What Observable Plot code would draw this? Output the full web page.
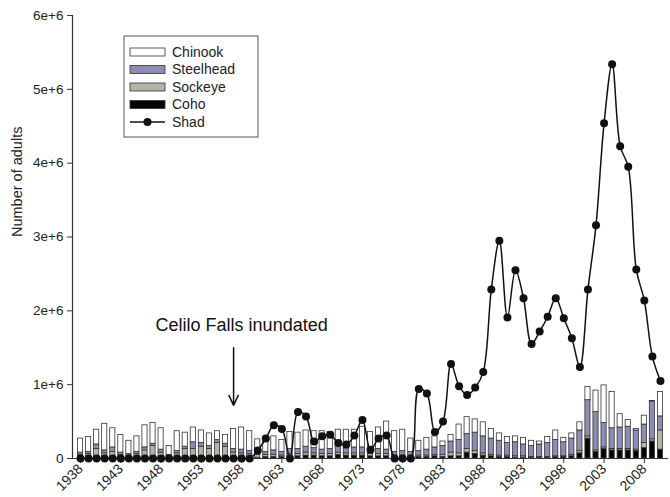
<!DOCTYPE html>
<html>
<head>
<meta charset="utf-8">
<script src="https://cdn.jsdelivr.net/npm/d3@7"></script>
<script src="https://cdn.jsdelivr.net/npm/@observablehq/plot@0.6"></script>
<style>
  html, body { margin: 0; padding: 0; background: #fff; }
  #chart { width: 670px; height: 497px; }
</style>
</head>
<body>
<div id="chart"></div>
<script>
// ---- Data (millions of adults) ----
const years = d3.range(1938, 2011);
const coho = [
  .01,.01,.01,.01,.01,.01,.01,.01,.01,.01,.01,.01,.01,.01,.01,.01,.01,.01,.01,.01,.01,.01,
  .01,.02,.02,.02,.03,.03,.04,.04,.03,.03,.05,.04,.04,.04,.03,.03,.03,.02,.02,.02,
  .02,.02,.03,.02,.03,.03,.08,.06,.04,.03,.02,.02,.01,.01,.01,.01,.01,.02,.02,.03,
  .07,.27,.09,.13,.11,.11,.11,.10,.14,.23,.12
];
const sockeye = [
  .04,.05,.12,.06,.08,.04,.03,.05,.10,.16,.07,.02,.06,.12,.12,.15,.12,.20,.15,.07,.06,.05,
  .04,.03,.03,.02,.03,.03,.04,.03,.03,.03,.03,.03,.03,.03,.03,.03,.03,.02,.02,.02,
  .02,.02,.02,.03,.05,.04,.05,.04,.03,.02,.02,.02,.02,.02,.01,.01,.01,.01,.01,.02,
  .03,.03,.02,.02,.02,.02,.02,.02,.07,.03,.26
];
const steelhead = [
  .03,.03,.06,.04,.06,.03,.02,.03,.04,.03,.04,.02,.03,.03,.09,.05,.04,.04,.04,.05,.05,.04,
  .03,.04,.06,.05,.07,.07,.08,.07,.06,.07,.09,.07,.08,.08,.06,.07,.06,.05,.06,.05,
  .06,.08,.10,.12,.15,.18,.20,.25,.23,.22,.20,.17,.19,.16,.15,.17,.19,.22,.19,.22,
  .28,.49,.52,.33,.28,.29,.30,.26,.25,.51,.19
];
const chinook = [
  .19,.20,.20,.36,.26,.24,.18,.21,.30,.28,.29,.12,.27,.19,.20,.17,.17,.12,.12,.27,.30,.27,
  .18,.20,.19,.16,.23,.22,.22,.23,.25,.23,.22,.25,.24,.28,.24,.29,.38,.28,.29,.18,
  .14,.16,.15,.06,.09,.21,.23,.18,.19,.13,.10,.08,.08,.09,.07,.04,.08,.13,.06,.07,
  .11,.18,.29,.51,.49,.18,.09,.02,.12,.01,.33
];
const shad = [
  0,0,0,0,0,0,0,0,0,0,0,0,0,0,0,0,0,0,0,0,0,0,
  .11,.27,.45,.40,0,.63,.57,.23,.30,.32,.21,.19,.31,.52,.12,.27,.31,0,0,0,
  .94,.88,.36,.50,1.28,.98,.86,.96,1.17,2.29,2.95,1.91,2.55,2.17,1.55,1.72,1.92,2.17,1.90,1.63,
  1.24,2.29,3.16,4.54,5.34,4.23,3.95,2.56,2.14,1.38,1.05
];
const speciesOrder = ["Coho", "Sockeye", "Steelhead", "Chinook"];
const speciesValues = {Coho: coho, Sockeye: sockeye, Steelhead: steelhead, Chinook: chinook};
const speciesColors = {Chinook: "#ffffff", Steelhead: "#8d8db3", Sockeye: "#b4b4a8", Coho: "#050505"};
const legendItems = ["Chinook", "Steelhead", "Sockeye", "Coho", "Shad"];
const xTicks = [1938, 1943, 1948, 1953, 1958, 1963, 1968, 1973, 1978, 1983, 1988, 1993, 1998, 2003, 2008];
const yTicks = [0, 1e6, 2e6, 3e6, 4e6, 5e6, 6e6];
const yTickLabels = ["0", "1e+6", "2e+6", "3e+6", "4e+6", "5e+6", "6e+6"];
const xDomain = [1937, 2011];
const yDomain = [0, 6e6];
const annotation = {text: "Celilo Falls inundated", year: 1958, value: 1.8e6, arrowYear: 1957, arrowFrom: 1.5e6, arrowTo: 0.72e6};

// ---- Build tables ----
const M = 1e6;
const stacked = [];
years.forEach((yr, i) => {
  let cum = 0;
  for (const sp of speciesOrder) {
    const v = speciesValues[sp][i] * M;
    stacked.push({year: yr, species: sp, y1: cum, y2: cum + v});
    cum += v;
  }
});
const shadData = years.map((yr, i) => ({year: yr, value: shad[i] * M}));
const halfW = 0.32;
const font = "'Liberation Sans', Arial, sans-serif";

const plot = Plot.plot({
  width: 670,
  height: 497,
  marginLeft: 72,
  marginRight: 2,
  marginTop: 15,
  marginBottom: 39,
  style: {fontFamily: font, fontSize: "13.5px", color: "#222", background: "#fff"},
  x: {domain: xDomain},
  y: {domain: yDomain},
  marks: [
    Plot.rectY(stacked, {
      x1: d => d.year - halfW, x2: d => d.year + halfW,
      y1: "y1", y2: "y2",
      fill: d => speciesColors[d.species],
      stroke: "#333", strokeWidth: 0.8
    }),
    Plot.ruleX([xDomain[0]], {y1: yDomain[0], y2: yDomain[1], stroke: "#333", strokeWidth: 1.2}),
    Plot.ruleY([0], {stroke: "#333", strokeWidth: 1.2}),
    Plot.axisY({ticks: yTicks, tickFormat: d => yTickLabels[yTicks.indexOf(d)], tickSize: 5, tickPadding: 4, label: null, stroke: "#333"}),
    Plot.axisX({ticks: xTicks, tickFormat: d => String(d), tickRotate: -45, tickSize: 5, tickPadding: 3, fontSize: 14, label: null, stroke: "#333"}),
    Plot.text(["Number of adults"], {frameAnchor: "left", rotate: -90, dx: -55, fontSize: 14.5, fill: "#222"}),
    Plot.line(shadData, {x: "year", y: "value", curve: "catmull-rom", stroke: "#111", strokeWidth: 1.5}),
    Plot.dot(shadData, {x: "year", y: "value", r: 4, fill: "#111", stroke: "none"}),
    Plot.text([annotation], {x: "year", y: "value", text: "text", fontSize: 18, fill: "#111"}),
    Plot.arrow([annotation], {x1: "arrowYear", x2: "arrowYear", y1: "arrowFrom", y2: "arrowTo", stroke: "#111", strokeWidth: 1.5, headLength: 11, headAngle: 50})
  ]
});
document.getElementById("chart").appendChild(plot);

// ---- Legend drawn into the same SVG ----
const svg = d3.select(plot);
const lg = svg.append("g").attr("font-family", font).attr("text-anchor", "start");
lg.append("rect").attr("x", 124).attr("y", 36).attr("width", 134).attr("height", 101)
  .attr("fill", "#fff").attr("stroke", "#555").attr("stroke-width", 1);
legendItems.forEach((name, i) => {
  const cy = 52 + i * 17.5;
  if (name === "Shad") {
    lg.append("line").attr("x1", 130).attr("x2", 165).attr("y1", cy).attr("y2", cy)
      .attr("stroke", "#111").attr("stroke-width", 1.5);
    lg.append("circle").attr("cx", 147.5).attr("cy", cy).attr("r", 4).attr("fill", "#111");
  } else {
    lg.append("rect").attr("x", 130).attr("y", cy - 4).attr("width", 35).attr("height", 8)
      .attr("fill", speciesColors[name]).attr("stroke", "#333").attr("stroke-width", 0.8);
  }
  lg.append("text").attr("x", 172).attr("y", cy).attr("dy", "0.35em")
    .attr("text-anchor", "start").attr("font-size", 14).attr("fill", "#222").text(name);
});
</script>
</body>
</html>
